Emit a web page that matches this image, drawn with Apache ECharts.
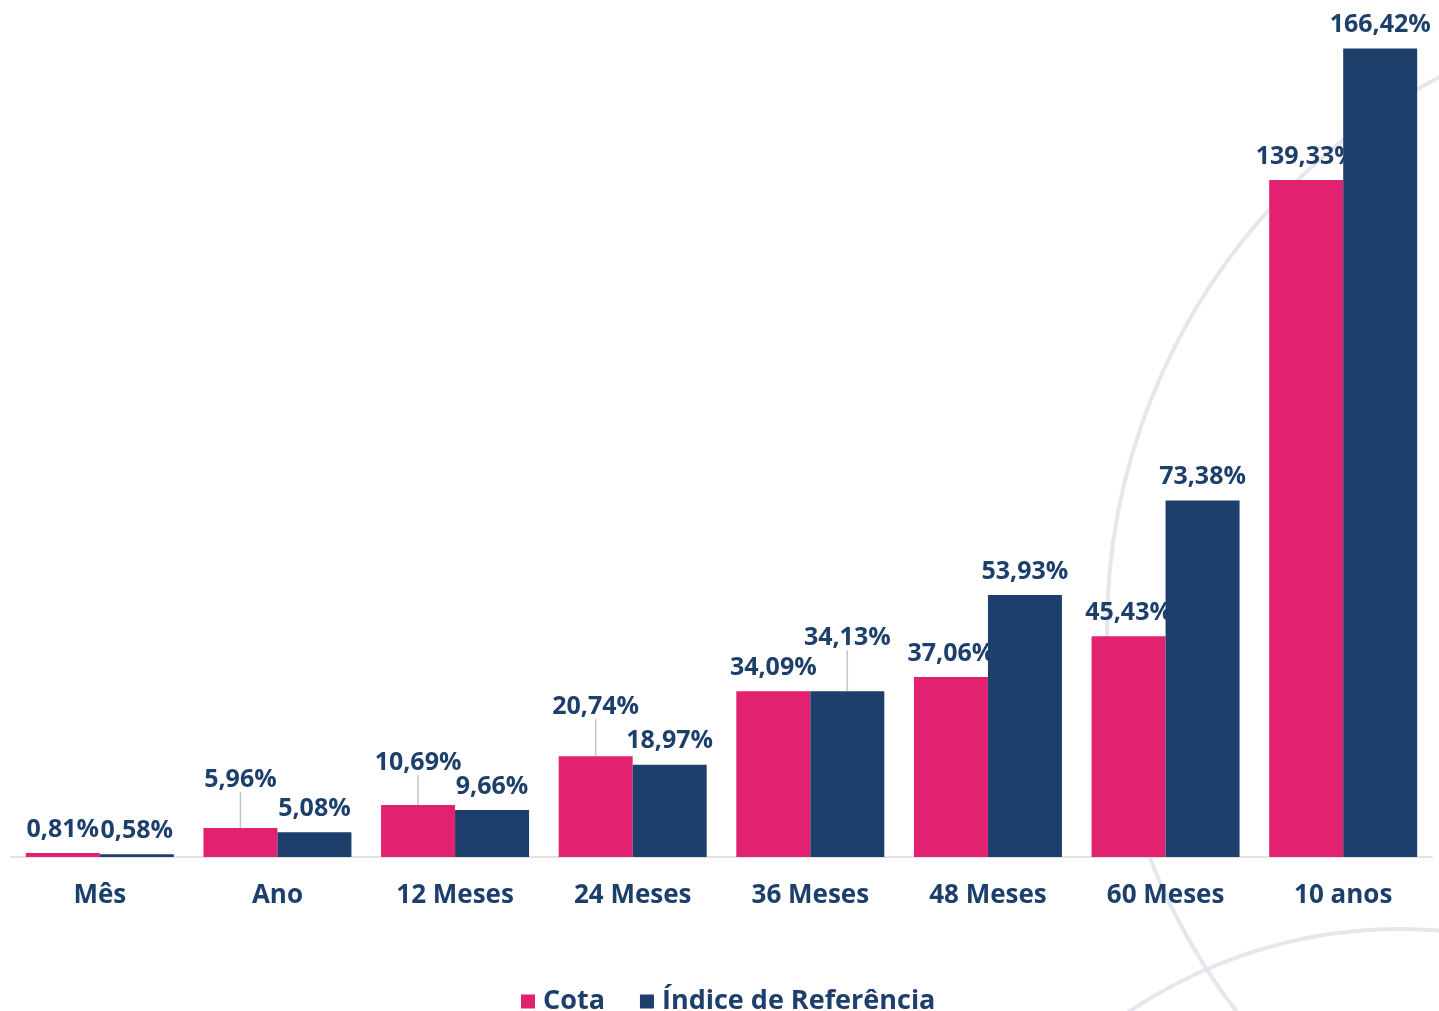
<!DOCTYPE html>
<html>
<head>
<meta charset="utf-8">
<script src="https://cdn.jsdelivr.net/npm/echarts@6/dist/echarts.min.js"></script>
<style>
	html, body { margin: 0; padding: 0; background: #fff; }
	#chart { width: 1439px; height: 1011px; }
</style>
</head>
<body>
<div id="chart"></div>
<script>
// 数据
const categories = ['Mês', 'Ano', '12 Meses', '24 Meses', '36 Meses', '48 Meses', '60 Meses', '10 anos'];
const cotaValues = [0.81, 5.96, 10.69, 20.74, 34.09, 37.06, 45.43, 139.33];
const indiceValues = [0.58, 5.08, 9.66, 18.97, 34.13, 53.93, 73.38, 166.42];

// 标签上移量（带引导线）
const cotaLift = [0, -25, -19, -26, 0, 0, 0, 0];
const indiceLift = [0, 0, 0, 0, -30, 0, 0, 0];

const PINK = '#e32171';
const NAVY = '#1d3f6c';
const FONT = '"Open Sans", Lato, sans-serif';

function fmt(v) {
	return v.toFixed(2).replace('.', ',') + '%';
}

function barSeries(name, values, color, lift, z) {
	return {
		name: name,
		type: 'bar',
		z: z,
		barWidth: 74,
		barGap: '0%',
		itemStyle: { color: color },
		label: {
			show: true,
			position: 'top',
			distance: 11,
			color: NAVY,
			fontFamily: FONT,
			fontWeight: 'bold',
			fontSize: 25,
			formatter: p => fmt(p.value)
		},
		labelLine: {
			lineStyle: { color: '#c4c4c4', width: 1.5 }
		},
		labelLayout: params => ({ dy: lift[params.dataIndex] }),
		// 只有被移动的标签显示引导线
		data: values.map((v, i) => ({
			value: v,
			labelLine: { show: lift[i] !== 0 }
		}))
	};
}

const chart = echarts.init(document.getElementById('chart'));
chart.setOption({
	backgroundColor: '#fff',
	animation: false,
	color: [PINK, NAVY],
	grid: {
		left: 11,
		right: 7,
		top: 31,
		bottom: 154
	},
	legend: {
		left: 516,
		top: 983,
		icon: 'rect',
		itemWidth: 14,
		itemHeight: 14,
		itemGap: 35,
		textStyle: {
			color: NAVY,
			fontFamily: FONT,
			fontWeight: 'bold',
			fontSize: 27,
			padding: [0, 0, 0, 3]
		},
		data: ['Cota', 'Índice de Referência']
	},
	xAxis: {
		type: 'category',
		data: categories,
		axisLine: { lineStyle: { color: '#e3e3e3', width: 2 } },
		axisTick: { show: false },
		axisLabel: {
			color: NAVY,
			fontFamily: FONT,
			fontWeight: 'bold',
			fontSize: 26,
			margin: 26,
			interval: 0
		}
	},
	yAxis: {
		type: 'value',
		min: 0,
		max: 170,
		show: false,
		splitLine: { show: false }
	},
	// 背景装饰圆弧
	graphic: [
		{
			type: 'circle',
			z: 0,
			silent: true,
			shape: { cx: 1733, cy: 630, r: 626 },
			style: { fill: 'none', stroke: '#e4e7ec', lineWidth: 4 }
		},
		{
			type: 'circle',
			z: 0,
			silent: true,
			shape: { cx: 1400, cy: 1414, r: 485 },
			style: { fill: 'none', stroke: '#e4e7ec', lineWidth: 4 }
		}
	],
	series: [
		barSeries('Cota', cotaValues, PINK, cotaLift, 2),
		barSeries('Índice de Referência', indiceValues, NAVY, indiceLift, 3)
	]
});
</script>
</body>
</html>
